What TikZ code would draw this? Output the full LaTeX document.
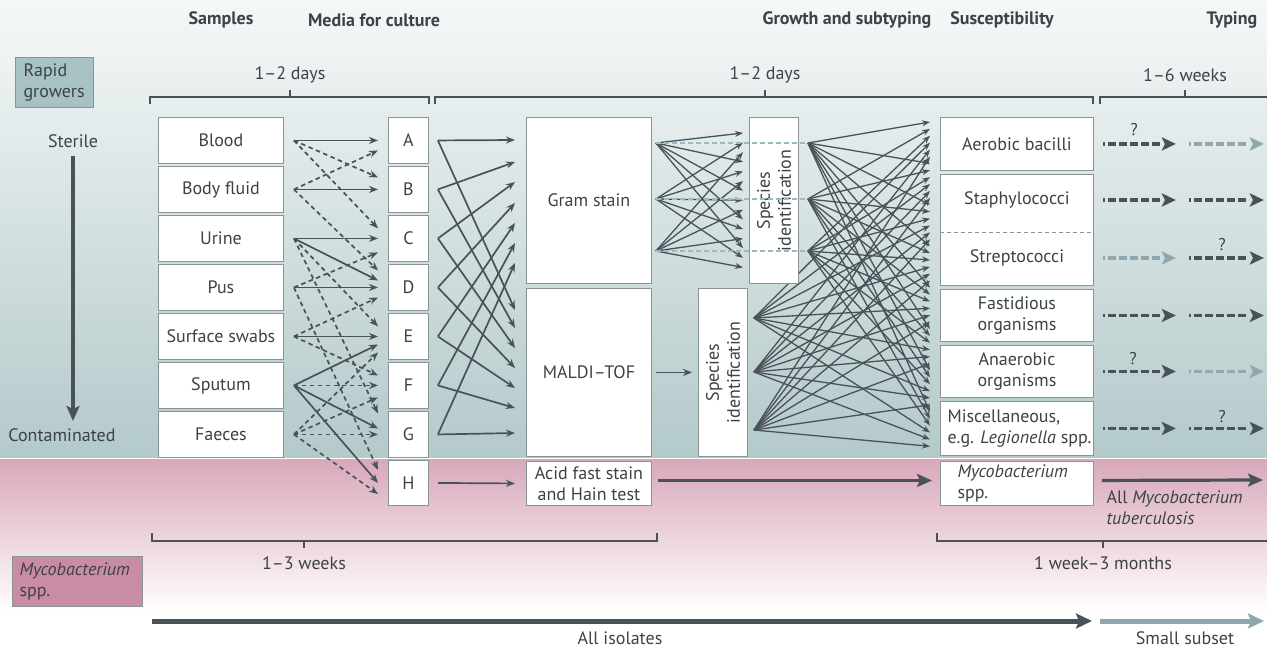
\documentclass[tikz,border=0pt]{standalone}
\usepackage{fontspec}
\setmainfont{PT Sans}
\usetikzlibrary{arrows.meta,calc}
\definecolor{dk}{HTML}{495257}
\definecolor{lt}{HTML}{8FA7AF}
\definecolor{bx}{HTML}{8A9497}
\definecolor{tealB}{HTML}{B3C9CA}
\definecolor{tealT}{HTML}{F6F8F8}
\definecolor{pinkT}{HTML}{D8A8BA}
\definecolor{rapidc}{HTML}{A8C2C3}
\definecolor{mycoc}{HTML}{CA8CA4}
\definecolor{txt}{HTML}{3C4246}
\definecolor{dashl}{HTML}{9FB9C2}
\pgfdeclarelayer{back}
\pgfdeclarelayer{lines}
\pgfsetlayers{back,lines,main}
\newcommand\smarrow[4]{\draw[#1] ($(#2.east)+(10,0)$) -- ($(#3.west)+(-10,#4)$);}
\begin{document}
\begin{tikzpicture}[x=1pt,y=-1pt,
  every node/.style={font=\fontsize{18}{21}\selectfont, text=txt},
  box/.style={draw=bx, fill=white, line width=0.9pt, inner sep=0pt, anchor=north west, align=center},
  sz/.style 2 args={minimum width=#1pt, minimum height=#2pt},
  arr/.style={draw=dk, line width=1.7pt, -{Stealth[length=9pt,width=7pt]}},
  farr/.style={draw=dk, line width=1.3pt, -{Stealth[length=8pt,width=6pt]}},
  darr/.style={arr, dash pattern=on 4.5pt off 3.5pt},
  tarr/.style={line width=3.4pt, dash pattern=on 2pt off 3.5pt on 7.5pt off 3.5pt on 7.5pt off 3.5pt on 7.5pt off 3.5pt on 7.5pt off 3.5pt on 7.5pt off 20pt, -{Stealth[length=14pt,width=13pt,inset=3pt]}},
  bigarr/.style={line width=3.2pt, -{Stealth[length=15pt,width=13pt,inset=3pt]}},
  hdr/.style={font=\fontsize{18}{21}\selectfont\bfseries},
  brk/.style={draw=dk, line width=1.3pt},
]
\useasboundingbox (0,0) rectangle (1267,650);
\begin{pgfonlayer}{back}
\fill[top color=tealT, bottom color=tealB] (0,0) rectangle (1267,458);
\fill[top color=pinkT, bottom color=white] (0,459) rectangle (1267,612);
\draw[white, line width=1.5pt] (0,458.5) -- (1267,458.5);
\end{pgfonlayer}

% headers
\node[hdr] (h1) at (221,20) {Samples};
\node[hdr] (h2) at (374,20) {Media for culture};
\node[hdr] (h3) at (847,20) {Growth and subtyping};
\node[hdr] (h4) at (1002,20) {Susceptibility};
\node[hdr] (h5) at (1232,20) {Typing};

% side labels
\node[draw=bx, fill=rapidc, line width=0.9pt, anchor=north west, minimum width=78pt, minimum height=50pt, inner sep=0pt] (rapid) at (15,57) {};
\node[anchor=west, align=left] (rapidt) at ($(rapid.west)+(5,0)$) {Rapid\\growers};
\node (sterile) at (73,141) {Sterile};
\node (contam) at (62,435) {Contaminated};
\coordinate (st0) at (73,156);
\coordinate (st1) at (73,421);
\draw[dk, bigarr] (st0) -- (st1);
\node[draw=bx, fill=mycoc, line width=0.9pt, anchor=north west, minimum width=130pt, minimum height=50pt, inner sep=0pt] (mycoL) at (12,556) {};
\node[anchor=west, align=left] (mycoLt) at ($(mycoL.west)+(4,0)$) {\textit{Mycobacterium}\\spp.};

% brackets
\draw[brk] (150,104) -- (150,97) -- (429,97) -- (429,104);
\draw[brk] (290,97) -- (290,90);
\node (b1) at (290,75) {1–2 days};
\draw[brk] (435,104) -- (435,97) -- (1093,97) -- (1093,104);
\draw[brk] (765,97) -- (765,90);
\node (b2) at (765,75) {1–2 days};
\draw[brk] (1100,104) -- (1100,97) -- (1267,97);
\draw[brk] (1185,97) -- (1185,90);
\node (b3) at (1185,75) {1–6 weeks};
\draw[brk] (152,533) -- (152,541) -- (657,541) -- (657,533);
\draw[brk] (304,541) -- (304,548);
\node (b4) at (304,563) {1–3 weeks};
\draw[brk] (937,533) -- (937,541) -- (1267,541);
\draw[brk] (1103,541) -- (1103,548);
\node (b5) at (1103,563) {1 week–3 months};

% samples
\node[box,sz={125}{46}] (blood) at (158,117) {Blood};
\node[box,sz={125}{46}] (body) at (158,166) {Body fluid};
\node[box,sz={125}{46}] (urine) at (158,215) {Urine};
\node[box,sz={125}{46}] (pus) at (158,264) {Pus};
\node[box,sz={125}{46}] (swab) at (158,313) {Surface swabs};
\node[box,sz={125}{46}] (sput) at (158,362) {Sputum};
\node[box,sz={125}{46}] (faec) at (158,411) {Faeces};

% media
\node[box,sz={40}{46}] (mA) at (388,117) {A};
\node[box,sz={40}{46}] (mB) at (388,166) {B};
\node[box,sz={40}{46}] (mC) at (388,215) {C};
\node[box,sz={40}{46}] (mD) at (388,264) {D};
\node[box,sz={40}{46}] (mE) at (388,313) {E};
\node[box,sz={40}{46}] (mF) at (388,362) {F};
\node[box,sz={40}{46}] (mG) at (388,411) {G};
\node[box,sz={40}{45}] (mH) at (388,460) {H};

% growth
\node[box,sz={125}{166}] (gram) at (526,117) {Gram stain};
\node[box,sz={125}{168}] (maldi) at (526,288) {MALDI–TOF};
\node[box,sz={125}{44}] (acid) at (526,461) {Acid fast stain\\and Hain test};
\node[box,sz={49}{166}] (spU) at (749,117) {};
\node[rotate=90, align=center] (spUt) at (spU.center) {Species\\identification};
\node[box,sz={49}{168}] (spL) at (698,288) {};
\node[rotate=90, align=center] (spLt) at (spL.center) {Species\\identification};

% susceptibility
\node[box,sz={153}{53}] (aer) at (940,117) {Aerobic bacilli};
\node[box,sz={153}{111}] (stst) at (940,174) {};
\node (staph) at ($(stst.north)+(0,26)$) {Staphylococci};
\node (strep) at ($(stst.north)+(0,84)$) {Streptococci};
\draw[bx, line width=0.9pt, dash pattern=on 4pt off 3pt] ($(stst.west)+(0,2.5)$) -- ($(stst.east)+(0,2.5)$);
\node[box,sz={153}{52}] (fast) at (940,289) {Fastidious\\organisms};
\node[box,sz={153}{52}] (anae) at (940,345) {Anaerobic\\organisms};
\node[box,sz={153}{54}] (misc) at (940,401) {};
\node[anchor=west, align=left] (misct) at ($(misc.west)+(4,0)$) {Miscellaneous,\\e.g. \textit{Legionella} spp.};
\node[box,sz={153}{44}] (mycoS) at (940,461) {};
\node[anchor=west, align=left] (mycoSt) at ($(mycoS.west)+(14,0)$) {\textit{Mycobacterium}\\spp.};

% light dashed horizontals over species box
\coordinate (g0) at ($(gram.north east)+(4,26)$);
\coordinate (g1) at ($(gram.north east)+(4,82)$);
\coordinate (g2) at ($(gram.north east)+(4,134)$);
\coordinate (o0) at ($(spU.north east)+(9,26)$);
\coordinate (o1) at ($(spU.north east)+(9,82)$);
\coordinate (o2) at ($(spU.north east)+(9,134)$);
\coordinate (o3) at ($(spL.north east)+(6,30)$);
\coordinate (o4) at ($(spL.north east)+(6,84)$);
\coordinate (o5) at ($(spL.north east)+(6,142)$);
\foreach \i in {0,1,2}{
  \draw[dashl, line width=1.4pt, dash pattern=on 5pt off 3pt] (g\i) -- (o\i);
}

\begin{pgfonlayer}{lines}
% samples -> media
\smarrow{arr}{blood}{mA}{0}
\smarrow{darr}{blood}{mB}{-12}
\smarrow{darr}{blood}{mC}{-10}
\smarrow{arr}{body}{mB}{0}
\smarrow{darr}{body}{mA}{10}
\smarrow{darr}{body}{mD}{-17}
\smarrow{arr}{urine}{mC}{0}
\smarrow{arr}{urine}{mD}{-7}
\smarrow{darr}{urine}{mE}{-10}
\smarrow{darr}{urine}{mG}{-21}
\smarrow{arr}{pus}{mD}{0}
\smarrow{darr}{pus}{mC}{14}
\smarrow{darr}{pus}{mH}{-13}
\smarrow{arr}{swab}{mE}{0}
\smarrow{darr}{swab}{mD}{10}
\smarrow{darr}{swab}{mF}{-10}
\smarrow{arr}{sput}{mE}{8}
\smarrow{darr}{sput}{mF}{0}
\smarrow{arr}{sput}{mG}{-6}
\smarrow{arr}{sput}{mH}{0}
\smarrow{darr}{faec}{mE}{16}
\smarrow{darr}{faec}{mF}{12}
\smarrow{darr}{faec}{mG}{0}
\smarrow{darr}{faec}{mH}{11}

% media -> gram / maldi
\foreach \m/\u/\d in {mA/140/310, mB/162/328, mC/182/348, mD/203/368, mE/223/388, mF/243/408, mG/263/433}{
  \draw[arr] ($(\m.east)+(9,0)$) -- ($(gram.north west)+(-11,\u-117)$);
  \draw[arr] ($(\m.east)+(9,0)$) -- ($(maldi.north west)+(-11,\d-288)$);
}
\draw[arr] ($(mH.east)+(9,0)$) -- ($(acid.west)+(-11,0)$);
\draw[dk, bigarr] ($(acid.east)+(6,-3)$) -- ($(mycoS.west)+(-8,-3)$);
\draw[arr] ($(maldi.east)+(4,0)$) -- ($(spL.west)+(-6,0)$);

% gram -> species
\foreach \i in {0,1,2}{
  \foreach \k in {0,...,4}{
    \pgfmathsetmacro\ty{16+(3*\k+\i)*9.6}
    \draw[farr] (g\i) -- ($(spU.north west)+(-6,\ty)$);
  }
}
% species -> susceptibility
\foreach \i in {0,...,5}{
  \foreach \k in {0,...,7}{
    \pgfmathsetmacro\ty{5+(6*\k+\i)*6.9}
    \draw[farr] (o\i) -- ($(aer.north west)+(-10,\ty)$);
  }
}
\end{pgfonlayer}

% typing arrows
\foreach \n/\ca/\cb in {aer/dk/lt, staph/dk/dk, strep/lt/dk, fast/dk/dk, anae/dk/lt, misct/dk/dk}{
  \draw[tarr,\ca] ($(aer.east |- \n)+(9,0)$) -- ($(aer.east |- \n)+(82,0)$);
  \draw[tarr,\cb] ($(aer.east |- \n)+(95,0)$) -- ($(aer.east |- \n)+(170,0)$);
}
\node[font=\fontsize{17}{20}\selectfont] (q1) at (1134,130) {?};
\node[font=\fontsize{17}{20}\selectfont] (q2) at (1222,245) {?};
\node[font=\fontsize{17}{20}\selectfont] (q3) at (1133,359) {?};
\node[font=\fontsize{17}{20}\selectfont] (q4) at (1222,417) {?};

% mycobacterium typing
\coordinate (myEnd) at (1263,480);
\draw[dk, bigarr] ($(mycoS.east)+(8,-3)$) -- (myEnd);
\node[anchor=north west, align=left] (mtb) at (1103,487) {All \textit{Mycobacterium}\\\textit{tuberculosis}};

% bottom arrows
\coordinate (ai0) at (152,621);
\coordinate (ai1) at (1092,621);
\coordinate (ss0) at (1100,621);
\coordinate (ss1) at (1264,621);
\draw[dk, line width=5pt, -{Stealth[length=16pt,width=15pt,inset=3pt]}] (ai0) -- (ai1);
\draw[lt, line width=5pt, -{Stealth[length=16pt,width=15pt,inset=3pt]}] (ss0) -- (ss1);
\node (allis) at (620,638) {All isolates};
\node (small) at (1185,638) {Small subset};
\end{tikzpicture}
\end{document}
